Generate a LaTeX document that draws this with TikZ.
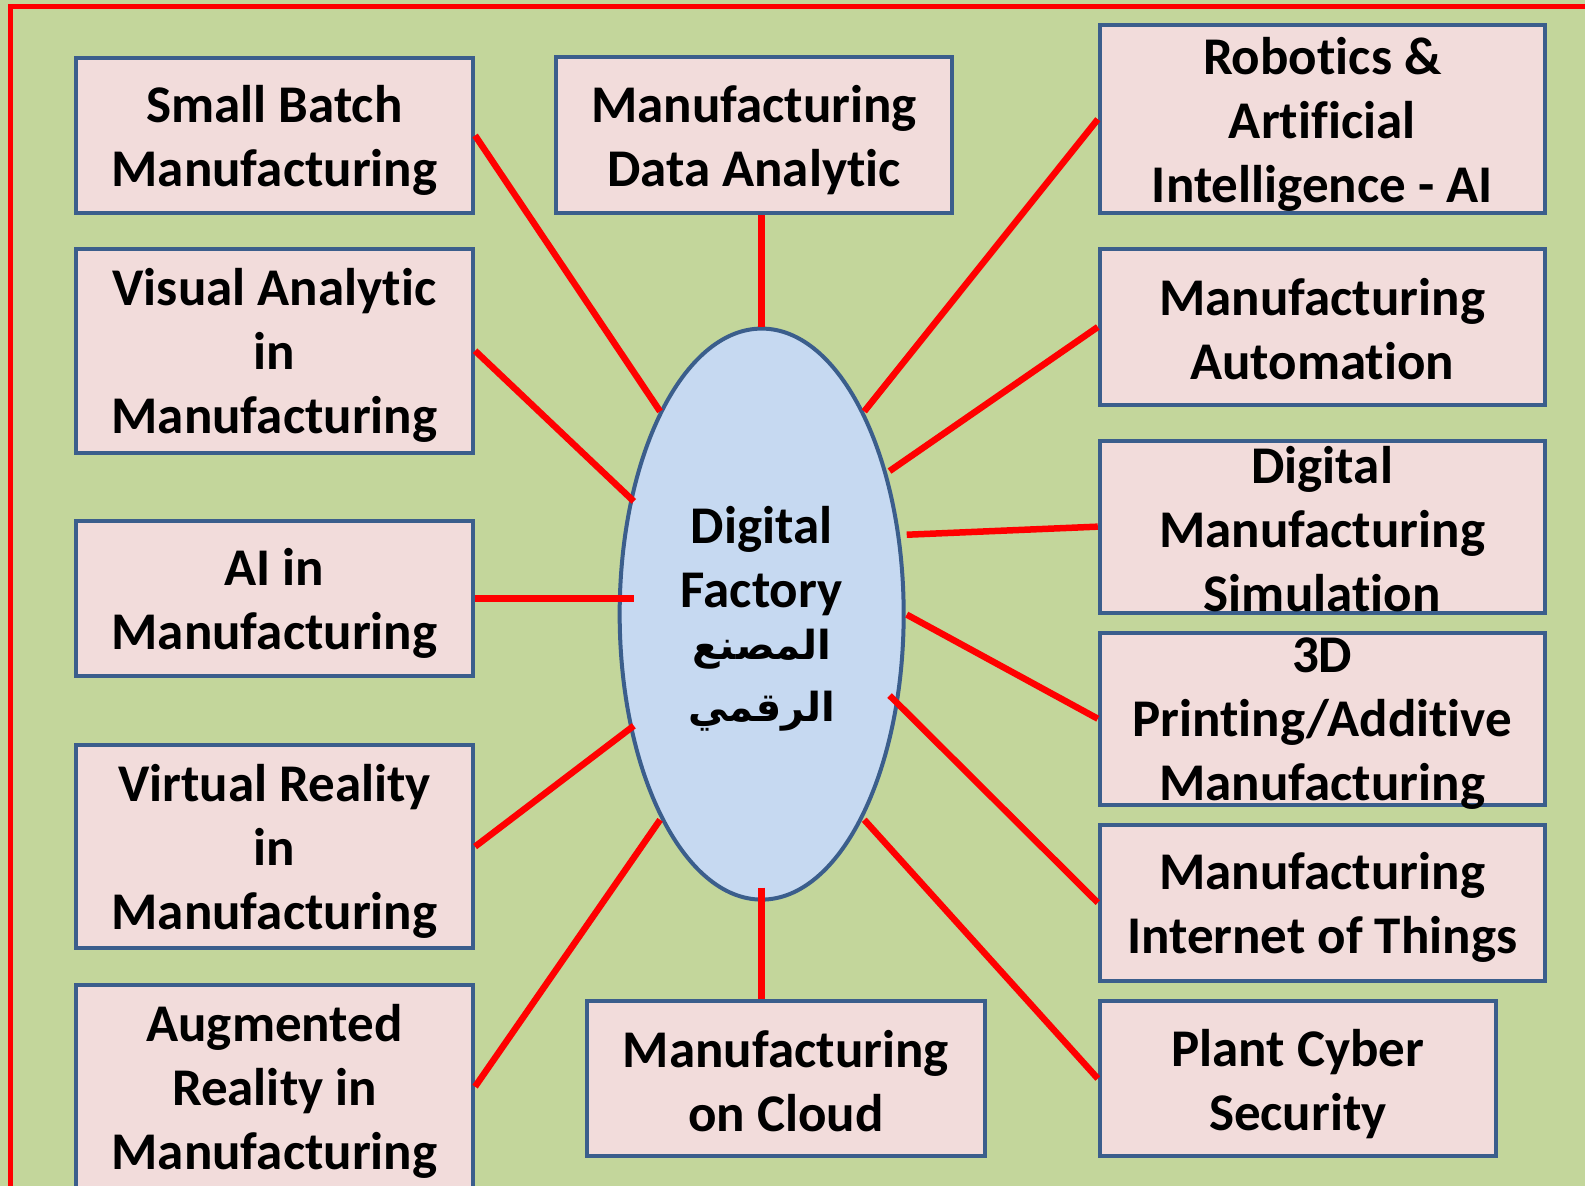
\documentclass[tikz,border=0pt]{standalone}
\usepackage{fontspec}
\setmainfont{Carlito}[Ligatures=NoCommon]
\newfontfamily\arabicfont[Script=Arabic]{DejaVu Sans}
\TeXXeTstate=1
\usetikzlibrary{shapes.geometric,fit}
\definecolor{bggreen}{HTML}{C3D69B}
\definecolor{boxpink}{HTML}{F2DCDB}
\definecolor{ellblue}{HTML}{C6D9F1}
\definecolor{edgeblue}{HTML}{3B5E8C}
\definecolor{linkred}{HTML}{FF0000}
\newcommand\lstrut{\rule[-6pt]{0pt}{64pt}}
\newcommand\arline[1]{{\arabicfont\fontsize{40}{64}\selectfont\beginR #1\endR}}
\begin{document}
\begin{tikzpicture}[x=1.0108pt,y=-1.0108pt,
  box/.style={draw=edgeblue, line width=4pt, fill=boxpink, inner sep=0pt},
  lbl/.style={font=\fontsize{53}{64}\selectfont\bfseries, align=center, inner sep=0pt, text=black,
              yshift=-5pt, execute at begin node=\lstrut, execute at end node=\lstrut},
  hub/.style={ellipse, draw=edgeblue, line width=4pt, fill=ellblue, inner sep=0pt,
              minimum width=284pt, minimum height=571pt},
  link/.style={draw=linkred, line width=6.5pt}]
\useasboundingbox (0,0) rectangle (1568,1173);
\fill[bggreen] (0,0) rectangle (1568,1173);
\draw[linkred, line width=5pt] (9.9,1185) -- (9.9,6.4) -- (1580,6.4);

% left column
\node[box, fit={(75,57) (468,211)}] (sb) {};
\node[box, fit={(75,246) (468,448)}] (va) {};
\node[box, fit={(75,515) (468,669)}] (ai) {};
\node[box, fit={(75,737) (468,938)}] (vr) {};
\node[box, fit={(75,974) (468,1176)}] (ar) {};
% middle
\node[box, fit={(550,56) (942,211)}] (da) {};
\node[box, fit={(581,990) (974,1144)}] (cl) {};
% right column
\node[box, fit={(1088,25) (1528,211)}] (rob) {};
\node[box, fit={(1088,246) (1528,401)}] (aut) {};
\node[box, fit={(1088,436) (1528,606)}] (dms) {};
\node[box, fit={(1088,626) (1528,796)}] (tdp) {};
\node[box, fit={(1088,816) (1528,970)}] (iot) {};
\node[box, fit={(1088,990) (1480,1144)}] (pcs) {};

% labels
\node[lbl] (sbt) at (sb.center) {Small Batch\\Manufacturing};
\node[lbl] (vat) at (va.center) {Visual Analytic\\in\\Manufacturing};
\node[lbl] (ait) at (ai.center) {AI in\\Manufacturing};
\node[lbl] (vrt) at (vr.center) {Virtual Reality\\in\\Manufacturing};
\node[lbl] (art) at (ar.center) {Augmented\\Reality in\\Manufacturing};
\node[lbl] (dat) at (da.center) {Manufacturing\\Data Analytic};
\node[lbl] (clt) at (cl.center) {Manufacturing\\on Cloud};
\node[lbl] (robt) at (rob.center) {Robotics \&\\Artificial\\Intelligence - AI};
\node[lbl] (autt) at (aut.center) {Manufacturing\\Automation};
\node[lbl] (dmst) at (dms.center) {Digital\\Manufacturing\\Simulation};
\node[lbl] (tdpt) at (tdp.center) {3D\\Printing/Additive\\Manufacturing};
\node[lbl] (iott) at (iot.center) {Manufacturing\\Internet of Things};
\node[lbl] (pcst) at (pcs.center) {Plant Cyber\\Security};

% hub
\node[hub] (ell) at (753.5,607.5) {};
\node[lbl] (ellt) at (ell.center) {Digital\\Factory\\[-12pt]\arline{المصنع}\\[-2pt]\arline{الرقمي}};

% ends on the hub
\coordinate (e-sb) at (653,407);
\coordinate (e-va) at (627,496);
\coordinate (e-ai) at (627,592);
\coordinate (e-vr) at (627,718);
\coordinate (e-ar) at (653,811);
\coordinate (e-rob) at (855,407);
\coordinate (e-aut) at (880,466);
\coordinate (e-dms) at (897,529);
\coordinate (e-tdp) at (897,608);
\coordinate (e-iot) at (880,688);
\coordinate (e-pcs) at (855,811);
\coordinate (e-cl) at (753.5,878);

\draw[link] (sb.east) -- (e-sb);
\draw[link] (va.east) -- (e-va);
\draw[link] (ai.east) -- (e-ai);
\draw[link] (vr.east) -- (e-vr);
\draw[link] (ar.east) -- (e-ar);
\draw[link] (rob.west) -- (e-rob);
\draw[link] (aut.west) -- (e-aut);
\draw[link] (dms.west) -- (e-dms);
\draw[link] (tdp.west) -- (e-tdp);
\draw[link] (iot.west) -- (e-iot);
\draw[link] (pcs.west) -- (e-pcs);
\draw[link] (ell.north) -- (ell.north |- da.south);
\draw[link] (e-cl) -- (e-cl |- cl.north);
\end{tikzpicture}
\end{document}
